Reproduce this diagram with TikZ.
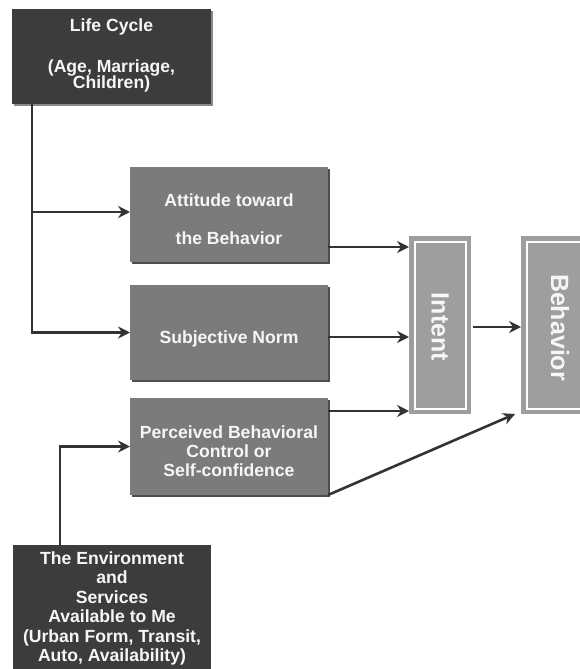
\documentclass[tikz,border=0pt]{standalone}
\usepackage{fontspec}
\setmainfont{Liberation Sans}
\usetikzlibrary{arrows.meta}
\definecolor{darkbox}{HTML}{3C3C3C}
\definecolor{midbox}{HTML}{7B7B7B}
\definecolor{midshadow}{HTML}{4E4E4E}
\definecolor{darkshadow}{HTML}{8A8A8A}
\definecolor{lightbox}{HTML}{9E9E9E}
\definecolor{wire}{HTML}{333333}
\definecolor{boxtext}{HTML}{F6F6F6}
\tikzset{
  darkrect/.style={rectangle, fill=darkbox, inner sep=0pt, outer sep=0pt},
  midrect/.style={rectangle, fill=midbox, inner sep=0pt, outer sep=0pt},
  tallrect/.style={rectangle, fill=lightbox, inner sep=0pt, outer sep=0pt,
    minimum width=62pt, minimum height=178pt},
  boxlabel/.style={text=boxtext, inner sep=0pt, align=center,
    font=\fontsize{17.6}{19.4}\selectfont\bfseries},
  biglabel/.style={text=boxtext, inner sep=0pt, rotate=-90,
    font=\fontsize{25}{28}\selectfont\bfseries},
  conn/.style={draw=wire, line width=2.6pt},
  arrowconn/.style={conn, -{Stealth[length=12pt,width=12pt,inset=4pt]}},
}
\begin{document}
\lineskiplimit=-20pt\relax
\begin{tikzpicture}[x=1pt,y=-1pt]
\useasboundingbox[fill=white] (0,0) rectangle (579,669);

% drop shadows
\fill[darkshadow] (14,11) rectangle (213,106);
\fill[midshadow] (132,169) rectangle (330,264);
\fill[midshadow] (132,287) rectangle (330,382);
\fill[midshadow] (132,400) rectangle (330,497);

% boxes
\node[darkrect, minimum width=199pt, minimum height=95pt] (life) at (111.5,56.5) {};
\node[midrect, minimum width=198pt, minimum height=95pt] (att) at (229,214.5) {};
\node[midrect, minimum width=198pt, minimum height=95pt] (subj) at (229,332.5) {};
\node[midrect, minimum width=198pt, minimum height=97pt] (perc) at (229,446.5) {};
\node[darkrect, minimum width=198pt, minimum height=155pt] (env) at (112,622.5) {};
\node[tallrect] (intent) at (440,325) {};
\node[tallrect, minimum width=79pt] (beh) at (560.5,325) {};

% inner white frames of the tall boxes
\draw[white, line width=2pt] (414.5,241.5) rectangle (465.5,408.5);
\draw[white, line width=2pt] (527,241.5) rectangle (610,408.5);

% texts
\node[boxlabel, font=\fontsize{17.6}{16}\selectfont\bfseries] (lifetxt) at (111.5,55)
  {Life Cycle\\[25pt](Age, Marriage,\\Children)};
\node[boxlabel] (atttxt) at (229,219.6) {Attitude toward\\[18.6pt]the Behavior};
\node[boxlabel, anchor=base] (subjtxt) at (229,343) {Subjective Norm};
\node[boxlabel, font=\fontsize{17.6}{19}\selectfont\bfseries] (perctxt) at (229,451)
  {Perceived Behavioral\\Control or\\Self-confidence};
\node[boxlabel] (envtxt) at (112,608.5)
  {The Environment\\and\\Services\\Available to Me\\(Urban Form, Transit,\\Auto, Availability)};
\node[biglabel] (intenttxt) at (440,327) {Intent};
\node[biglabel] (behtxt) at (560,327.5) {Behavior};

% connectors
\coordinate (lc) at ([xshift=20pt]life.south west);
\coordinate (attin) at ([yshift=2.5pt]att.west);
\draw[arrowconn] (lc) |- (subj.west);
\draw[arrowconn] (lc |- attin) -- (attin);
\coordinate (a1) at ([yshift=-32.5pt]att.east);
\draw[arrowconn] (a1) -- (a1 -| intent.west);
\coordinate (s1) at ([yshift=-4.5pt]subj.east);
\draw[arrowconn] (s1) -- (s1 -| intent.west);
\coordinate (p1) at ([yshift=-13pt]perc.north east);
\draw[arrowconn] (p1) -- (p1 -| intent.west);
\draw[arrowconn] (perc.south east) -- ([xshift=-6pt]beh.south west);
\coordinate (i1) at ([xshift=2pt,yshift=-2pt]intent.east);
\draw[arrowconn] (i1) -- (i1 -| beh.west);
\draw[arrowconn] ([xshift=47pt]env.north west) |- (perc.west);
\end{tikzpicture}
\end{document}
